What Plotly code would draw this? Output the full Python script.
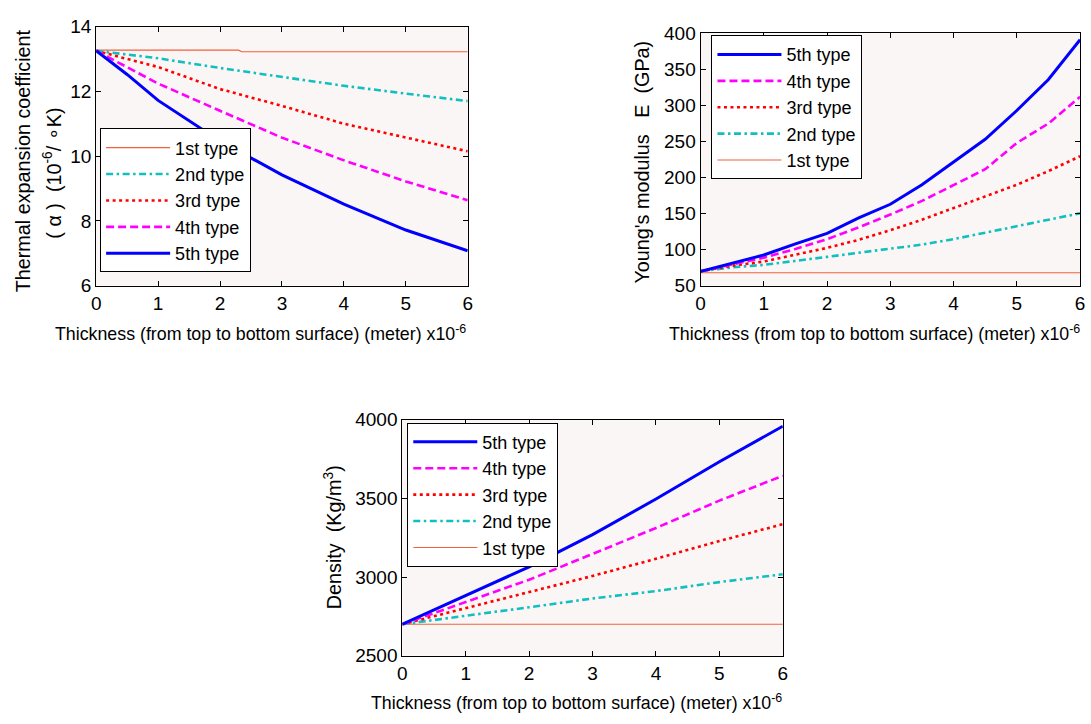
import plotly.graph_objects as go

# ---------------- data (thickness in units of 1e-6 m) ----------------
x_grid = [0, 1, 2, 3, 4, 5, 6]
x_half = [0, 0.5, 1, 1.5, 2, 2.5, 3, 3.5, 4, 4.5, 5, 5.5, 6]

# Thermal expansion coefficient (1e-6 / K)
alpha_x1 = [0, 2.30, 2.35, 6]
alpha_1st = [13.27, 13.27, 13.22, 13.22]
alpha_x = [0, 0.5, 1, 2, 3, 4, 5, 6]
alpha_2nd = [13.25, 13.14, 13.02, 12.72, 12.45, 12.17, 11.93, 11.70]
alpha_3rd = [13.25, 13.00, 12.75, 12.07, 11.55, 11.00, 10.57, 10.15]
alpha_4th = [13.25, 12.75, 12.24, 11.40, 10.57, 9.87, 9.22, 8.64]
alpha_5th = [13.25, 12.52, 11.72, 10.47, 9.42, 8.52, 7.72, 7.08]

# Young's modulus (GPa)
E_1st = [68] * 13
E_2nd = [70, 75.6, 79, 84, 90, 95.8, 101, 107, 114.6, 123.6, 131.7, 140.6, 150.5]
E_3rd = [70, 77.8, 83.6, 92.6, 102.5, 113.7, 127, 141.5, 157.7, 173, 190, 209, 229.5]
E_4th = [70, 80, 89, 101, 114.6, 131, 148.7, 167.6, 190, 211.5, 248, 275, 312]
E_5th = [70, 81, 92.6, 108, 122.7, 144, 163, 190, 221, 253, 293, 336, 391]

# Density (kg/m^3)
rho_1st = [2700] * 7
rho_2nd = [2700, 2753, 2808, 2864, 2911, 2968, 3018]
rho_3rd = [2700, 2802, 2905, 3007, 3116, 3229, 3336]
rho_4th = [2700, 2839, 2983, 3147, 3312, 3486, 3644]
rho_5th = [2700, 2880, 3065, 3270, 3496, 3733, 3959]

names = ["1st type", "2nd type", "3rd type", "4th type", "5th type"]

# ---------------- styles ----------------
W, H = 1091, 724
FONT = "Liberation Sans, Arial, sans-serif"
styles = [
    dict(color="#f0603c", width=1.1),
    dict(color="#12bfbf", width=2.6, dash="7px,3.5px,2.5px,3.5px"),
    dict(color="#ff0000", width=2.6, dash="3px,3.5px"),
    dict(color="#ff00ff", width=2.6, dash="8px,4px"),
    dict(color="#0000ff", width=3.0),
]

def fx(p):
    return p / W

def fy(p):
    return 1 - p / H

fig = go.Figure()

panels = [
    ("x", "y", "legend", [(alpha_x1, alpha_1st), (alpha_x, alpha_2nd), (alpha_x, alpha_3rd),
                          (alpha_x, alpha_4th), (alpha_x, alpha_5th)]),
    ("x2", "y2", "legend2", [(x_half, E_1st), (x_half, E_2nd), (x_half, E_3rd),
                             (x_half, E_4th), (x_half, E_5th)]),
    ("x3", "y3", "legend3", [(x_grid, rho_1st), (x_grid, rho_2nd), (x_grid, rho_3rd),
                             (x_grid, rho_4th), (x_grid, rho_5th)]),
]

for xa, ya, lg, series in panels:
    for i, (xs, ys) in enumerate(series):
        fig.add_trace(go.Scatter(x=xs, y=ys, mode="lines", name=names[i],
                                 line=styles[i], xaxis=xa, yaxis=ya, legend=lg,
                                 legendgroup=lg + names[i]))

axis_common = dict(showline=True, linecolor="black", linewidth=1, mirror="ticks",
                   ticks="inside", ticklen=5, tickcolor="black", showgrid=False,
                   zeroline=False, tickfont=dict(family=FONT, size=19, color="black"))

fig.update_layout(
    width=W, height=H, margin=dict(l=0, r=0, t=0, b=0),
    paper_bgcolor="white", plot_bgcolor="#faf6f5",
    font=dict(family=FONT, color="black"),
    xaxis=dict(domain=[fx(92), fx(467)], anchor="y", range=[0, 6], dtick=1, **axis_common),
    yaxis=dict(domain=[fy(284), fy(17)], anchor="x", range=[6, 14], dtick=2, **axis_common),
    xaxis2=dict(domain=[fx(702), fx(1085)], anchor="y2", range=[0, 6], dtick=1, **axis_common),
    yaxis2=dict(domain=[fy(284), fy(24)], anchor="x2", range=[50, 400], dtick=50, **axis_common),
    xaxis3=dict(domain=[fx(401), fx(785)], anchor="y3", range=[0, 6], dtick=1, **axis_common),
    yaxis3=dict(domain=[fy(665), fy(422)], anchor="x3", range=[2500, 4000], dtick=500, **axis_common),
)

leg_common = dict(bgcolor="white", bordercolor="black", borderwidth=1,
                  font=dict(family=FONT, size=18, color="black"),
                  itemwidth=64, xanchor="left", yanchor="top")
fig.update_layout(
    legend=dict(x=fx(96), y=fy(122), traceorder="normal", tracegroupgap=5, **leg_common),
    legend2=dict(x=fx(713), y=fy(26), traceorder="reversed", tracegroupgap=5, **leg_common),
    legend3=dict(x=fx(406), y=fy(425), traceorder="reversed", tracegroupgap=0, **leg_common),
)

xtitle = "Thickness (from top to bottom surface) (meter) x10<sup>-6</sup>"
ann = []
for right_px, ypx in [(467, 333), (1087, 333), (786, 713)]:
    ann.append(dict(text=xtitle, x=fx(right_px), y=fy(ypx), xref="paper", yref="paper",
                    xanchor="right", yanchor="middle", showarrow=False,
                    font=dict(family=FONT, size=17.8, color="black")))

ytitles = [
    ("Thermal expansion coefficient", 18, 155),
    ("( α )  (10<sup>-6</sup>/ ∘K)", 47, 168),
    ("Young's modulus   E  (GPa)", 643, 157),
    ("Density  (Kg/m<sup>3</sup>)", 330, 543),
]
for t, xp, yp in ytitles:
    ann.append(dict(text=t, x=fx(xp), y=fy(yp), xref="paper", yref="paper",
                    xanchor="center", yanchor="middle", textangle=-90, showarrow=False,
                    font=dict(family=FONT, size=19.8, color="black")))
fig.update_layout(annotations=ann)

fig.write_html("out.html")
